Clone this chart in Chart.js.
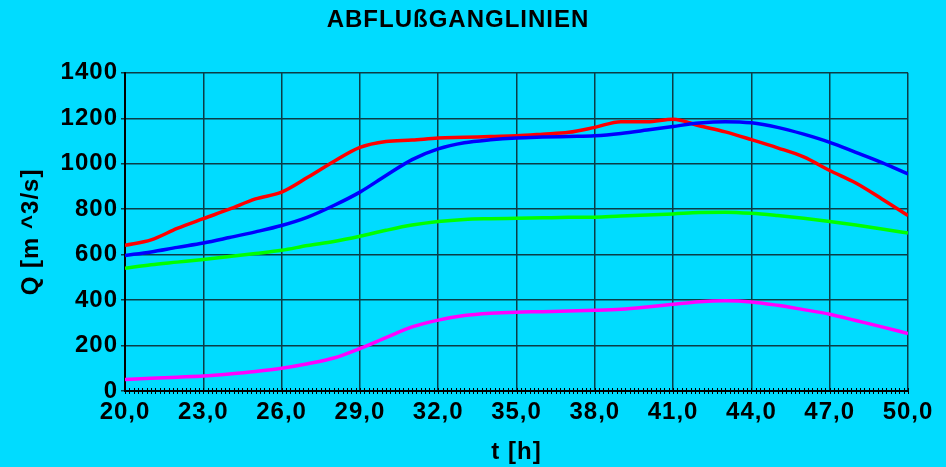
<!DOCTYPE html>
<html>
<head>
<meta charset="utf-8">
<script src="https://cdn.jsdelivr.net/npm/chart.js@4/dist/chart.umd.min.js"></script>
<style>
  html, body { margin:0; padding:0; background:#00dcff; }
  #wrap { width:946px; height:467px; }
</style>
</head>
<body>
<div id="wrap"><canvas id="abfluss" width="946" height="467"></canvas></div>
<script>
// =========================
// DATA
// =========================

const zeit = [20,21,22,23,24,25,26,27,28,29,30,31,32,33,34,35,36,37,38,39,40,41,42,43,44,45,46,47,48,49,50];

const rot = [641,665,715,758,800,845,875,940,1010,1072,1098,1104,1113,1116,1120,1123,1130,1138,1160,1185,1185,1196,1167,1140,1106,1070,1030,970,915,845,772];
const blau = [596,612,632,651,675,700,728,765,816,875,948,1018,1065,1092,1105,1113,1117,1120,1123,1133,1148,1164,1179,1185,1180,1160,1130,1094,1050,1005,955];
const gruen = [540,555,567,579,592,605,619,640,658,681,707,730,746,755,758,760,762,764,765,770,774,779,785,787,782,772,760,746,730,713,695];
const magenta = [51,56,61,66,75,86,100,120,145,187,235,282,312,332,342,347,349,352,355,360,370,382,393,397,392,377,358,338,310,282,253];

const titel = "ABFLUßGANGLINIEN";
const xTitel = "t [h]";
const yTitel = "Q [m ^3/s]";

// =========================
// CHART
// =========================

Chart.defaults.font.family = "'Liberation Sans', Arial, sans-serif";
Chart.defaults.font.weight = "bold";
Chart.defaults.color = "#000";

const bg = "#00dcff";
const gitter = "#0b3d47";

function punkte(werte){
  return zeit.map((t,i) => ({x:t, y:werte[i]}));
}

function serie(werte, farbe){
  return {
    data: punkte(werte),
    borderColor: farbe,
    borderWidth: 3.5,
    pointRadius: 0,
    cubicInterpolationMode: "monotone",
    fill: false
  };
}

// Schrift im Original etwas breiter -> letterSpacing
// (muss nach jedem canvas-resize neu gesetzt werden)
function breit(chart){
  chart.ctx.letterSpacing = "1px";
}

// hintergrund + kleine Striche an der x-Achse
const deko = {
  id: "deko",
  beforeUpdate: breit,
  beforeLayout: breit,
  beforeDraw(chart){
    breit(chart);
    const c = chart.ctx;
    c.save();
    c.fillStyle = bg;
    c.fillRect(0,0,chart.width,chart.height);
    c.restore();
  },
  afterDraw(chart){
    const c = chart.ctx;
    const xs = chart.scales.x;
    const unten = chart.chartArea.bottom;
    c.save();
    c.strokeStyle = "#000";
    c.lineWidth = 1;
    for(let k = 0; k <= 180; k++){
      const px = Math.round(xs.getPixelForValue(20 + k/6)) + 0.5;
      c.beginPath();
      c.moveTo(px, unten - 3);
      c.lineTo(px, unten + 3);
      c.stroke();
    }
    c.restore();
  }
};

const ctx = document.getElementById("abfluss").getContext("2d");

new Chart(ctx, {
  type: "line",
  data: {
    datasets: [
      serie(magenta, "#ff00ff"),
      serie(gruen, "#00ff00"),
      serie(blau, "#0000ff"),
      serie(rot, "#ff0000")
    ]
  },
  options: {
    responsive: false,
    animation: false,
    layout: { padding: { left: 8, right: 38, top: 0, bottom: 0 } },
    plugins: {
      legend: { display: false },
      tooltip: { enabled: false },
      title: {
        display: true,
        text: titel,
        font: { size: 24, weight: "bold" },
        color: "#000",
        padding: { top: 6, bottom: 38 }
      }
    },
    scales: {
      x: {
        type: "linear",
        min: 20,
        max: 50,
        border: { color: "#000", width: 2 },
        grid: { color: gitter, lineWidth: 1.5, drawTicks: false },
        ticks: {
          stepSize: 3,
          padding: 7,
          font: { size: 24, weight: "bold" },
          color: "#000",
          callback: v => v.toFixed(1).replace(".", ",")
        },
        title: {
          display: true,
          text: xTitel,
          font: { size: 24, weight: "bold" },
          color: "#000",
          padding: { top: 4, bottom: 0 }
        },
        afterFit: s => { s.height = 76; }
      },
      y: {
        min: 0,
        max: 1400,
        border: { color: "#000", width: 2 },
        grid: { color: gitter, lineWidth: 1.5, tickLength: 4 },
        ticks: {
          stepSize: 200,
          padding: 3,
          font: { size: 24, weight: "bold" },
          color: "#000",
          callback: v => String(v)
        },
        title: {
          display: true,
          text: yTitel,
          font: { size: 24, weight: "bold" },
          color: "#000",
          padding: { top: 9, bottom: 0 }
        },
        afterFit: s => { s.width = 117; }
      }
    }
  },
  plugins: [deko]
});
</script>
</body>
</html>
